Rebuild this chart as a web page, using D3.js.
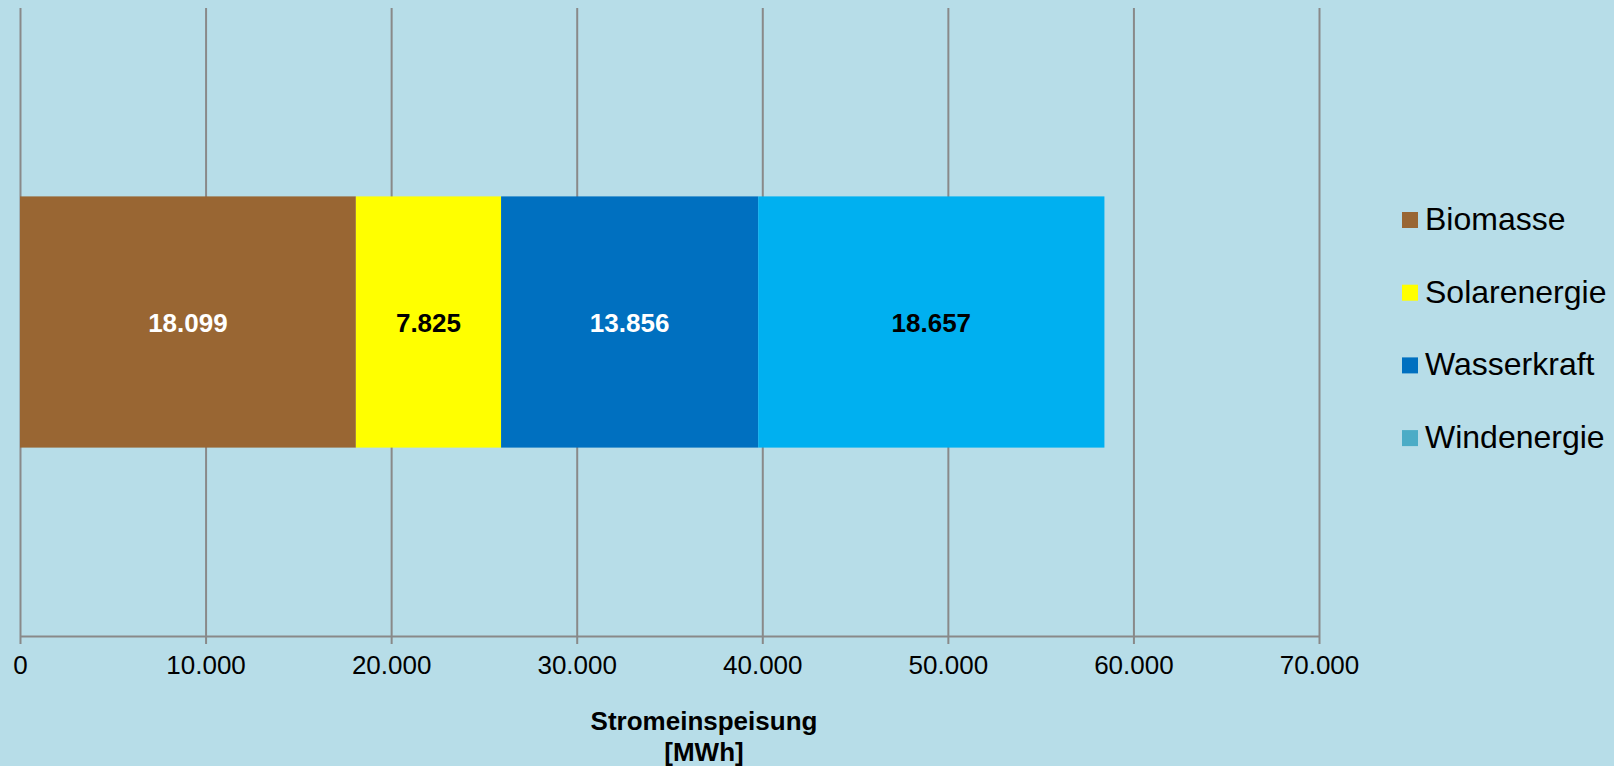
<!DOCTYPE html>
<html>
<head>
<meta charset="utf-8">
<script src="https://cdn.jsdelivr.net/npm/d3@7"></script>
<style>
  body { margin: 0; background: #B7DDE8; }
  svg { display: block; font-family: "Liberation Sans", Arial, sans-serif; }
</style>
</head>
<body>
<div id="chart"></div>
<script>
// Data
var categories = ["Stromeinspeisung"];
var seriesNames = ["Biomasse", "Solarenergie", "Wasserkraft", "Windenergie"];
var seriesValues = [18099, 7825, 13856, 18657];
var barColors = ["#996633", "#FFFF00", "#0070C0", "#00B0F0"];
var legendColors = ["#996633", "#FFFF00", "#0070C0", "#4BACC6"];
var labelColors = ["#FFFFFF", "#000000", "#FFFFFF", "#000000"];
var tickValues = [0, 10000, 20000, 30000, 40000, 50000, 60000, 70000];
var axisTitle = ["Stromeinspeisung", "[MWh]"];

var svgWidth = 1614;
var svgHeight = 766;

var plot = { left: 20, right: 1319, top: 8, bottom: 636 };

var svg = d3.select("#chart")
  .append("svg")
  .attr("width", svgWidth)
  .attr("height", svgHeight);

svg.append("rect")
  .attr("width", svgWidth)
  .attr("height", svgHeight)
  .attr("fill", "#B7DDE8");

var de = d3.formatLocale({ decimal: ",", thousands: ".", grouping: [3], currency: ["", " €"] });
var fmt = de.format(",d");

var x = d3.scaleLinear()
  .domain([0, 70000])
  .range([plot.left, plot.right]);

var y = d3.scaleBand()
  .domain(categories)
  .range([plot.top, plot.bottom])
  .paddingInner(0.6)
  .paddingOuter(0.3);

// Gridlines
svg.append("g")
  .attr("class", "grid")
  .attr("transform", `translate(0, ${plot.bottom})`)
  .call(d3.axisBottom(x)
    .tickValues(tickValues)
    .tickSize(-(plot.bottom - plot.top))
    .tickFormat(""))
  .call(g => g.select(".domain").remove())
  .call(g => g.selectAll("line").attr("stroke", "#898989").attr("stroke-width", 2));

// Stacked segments
var stacked = [];
var start = 0;
seriesValues.forEach(function(v, i) {
  stacked.push({ name: seriesNames[i], value: v, x0: start, x1: start + v, color: barColors[i], label: labelColors[i] });
  start += v;
});

var bandY = y(categories[0]);
var bandH = y.bandwidth();

svg.selectAll("rect.seg")
  .data(stacked)
  .enter()
  .append("rect")
  .attr("class", "seg")
  .attr("x", d => x(d.x0))
  .attr("y", bandY)
  .attr("width", d => x(d.x1) - x(d.x0))
  .attr("height", bandH)
  .attr("fill", d => d.color);

svg.selectAll("text.val")
  .data(stacked)
  .enter()
  .append("text")
  .attr("class", "val")
  .attr("x", d => (x(d.x0) + x(d.x1)) / 2)
  .attr("y", bandY + bandH / 2 + 10)
  .attr("text-anchor", "middle")
  .attr("font-size", "26px")
  .attr("font-weight", "bold")
  .attr("fill", d => d.label)
  .text(d => fmt(d.value));

// X axis
var xAxis = svg.append("g")
  .attr("transform", `translate(0, ${plot.bottom})`)
  .call(d3.axisBottom(x)
    .tickValues(tickValues)
    .tickSizeInner(8)
    .tickSizeOuter(0)
    .tickPadding(12)
    .tickFormat(fmt));

xAxis.select(".domain").attr("stroke", "#898989").attr("stroke-width", 2);
xAxis.selectAll(".tick line").attr("stroke", "#898989").attr("stroke-width", 2);
xAxis.selectAll(".tick text")
  .attr("font-size", "26px")
  .attr("font-family", "'Liberation Sans', Arial, sans-serif")
  .attr("fill", "#000");

// Axis title
svg.append("text")
  .attr("x", 704)
  .attr("y", 730)
  .attr("text-anchor", "middle")
  .attr("font-size", "26px")
  .attr("font-weight", "bold")
  .selectAll("tspan")
  .data(axisTitle)
  .enter()
  .append("tspan")
  .attr("x", 704)
  .attr("dy", (d, i) => i === 0 ? 0 : 31)
  .text(d => d);

// Legend
var legend = svg.append("g")
  .attr("transform", "translate(1402, 220)");

var items = legend.selectAll("g")
  .data(seriesNames)
  .enter()
  .append("g")
  .attr("transform", (d, i) => `translate(0, ${i * 72.7})`);

items.append("rect")
  .attr("x", 0)
  .attr("y", -8)
  .attr("width", 16)
  .attr("height", 16)
  .attr("fill", (d, i) => legendColors[i]);

items.append("text")
  .attr("x", 23)
  .attr("y", 10)
  .attr("font-size", "32px")
  .attr("fill", "#000")
  .text(d => d);
</script>
</body>
</html>
